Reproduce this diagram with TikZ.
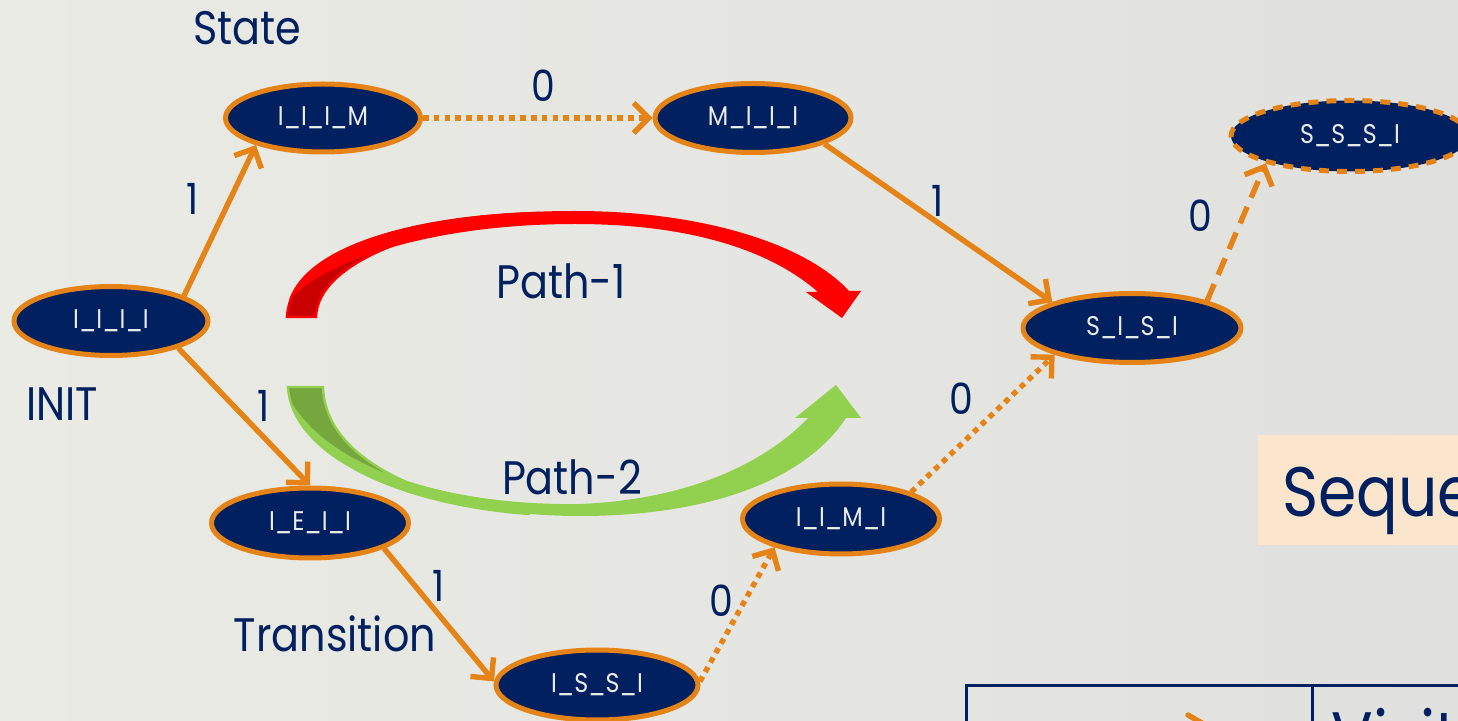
\documentclass[tikz,border=0pt]{standalone}
\usepackage{fontspec}
\setmainfont{Poppins}[FakeStretch=0.88]
\usetikzlibrary{shapes.geometric,arrows.meta}

\definecolor{navy}{RGB}{0,32,96}
\definecolor{edgeorange}{RGB}{230,131,22}
\definecolor{nodetext}{RGB}{236,236,236}
\definecolor{bgL}{RGB}{235,235,229}
\definecolor{bgR}{RGB}{224,224,222}
\definecolor{pathred}{RGB}{255,0,0}
\definecolor{pathreddark}{RGB}{200,0,0}
\definecolor{pathgreen}{RGB}{146,208,80}
\definecolor{pathgreendark}{RGB}{118,166,62}
\definecolor{peach}{RGB}{251,229,204}

\tikzset{
  statenode/.style={ellipse, fill=navy, draw=edgeorange, line width=2.5pt,
    inner sep=0pt, text=nodetext, font=\fontsize{13.5}{15}\selectfont},
  trans/.style={draw=edgeorange, line width=2.7pt,
    -{Straight Barb[length=7.5pt,width=15pt]}},
  dotline/.style={trans, dash pattern=on 2.8pt off 2.6pt},
  dashline/.style={trans, dash pattern=on 9pt off 5pt},
  lbl/.style={text=navy, font=\fontsize{21.5}{24}\selectfont, anchor=base, inner sep=0pt},
  caption/.style={text=navy, font=\fontsize{23.5}{28}\selectfont, anchor=base, inner sep=0pt},
}

\begin{document}
\begin{tikzpicture}[x=0.5pt,y=-0.5pt]
\useasboundingbox (0,0) rectangle (1458,721);
\clip (0,0) rectangle (1458,721);
\shade[left color=bgL, right color=bgR] (0,0) rectangle (1458,721);

% captions
\node[caption] (capstate) at (247,45) {State};
\node[caption] (capinit) at (62,421) {INIT};
\node[caption] (captrans) at (335,652) {Transition};

% curved block arrow, Path-1 (red, over the top)
\fill[pathreddark, draw=pathred, line width=1.2pt]
  (287,317) .. controls (290,250) and (410,216) .. (540,213)
  .. controls (420,226) and (318,262) .. (316,317) -- cycle;
\fill[pathred]
  (289,300) .. controls (310,238) and (440,211) .. (575,211)
  .. controls (700,211) and (805,243) .. (849,291)
  -- (861,291) -- (842,318) -- (806,292) -- (818,292)
  .. controls (770,250) and (690,224) .. (575,224)
  .. controls (440,224) and (330,257) .. (289,300) -- cycle;
\node[caption] (path1) at (561,299) {Path-1};

% curved block arrow, Path-2 (green, under the bottom)
\fill[pathgreendark, draw=pathgreen, line width=1.2pt]
  (288,387) .. controls (292,455) and (400,505) .. (530,514)
  .. controls (420,500) and (325,458) .. (323,387) -- cycle;
\fill[pathgreen]
  (290,400) .. controls (315,475) and (450,516) .. (580,516)
  .. controls (710,516) and (805,480) .. (846,418)
  -- (861,418) -- (836,385) -- (795,418) -- (808,418)
  .. controls (760,468) and (680,500) .. (580,504)
  .. controls (450,506) and (330,470) .. (290,400) -- cycle;
\node[caption] (path2) at (572,495) {Path-2};

% states
\node[statenode, minimum width=97pt, minimum height=34.5pt] (s1111) at (111,321) {I\_I\_I\_I};
\node[statenode, minimum width=97.5pt, minimum height=34pt] (s111m) at (323,118) {I\_I\_I\_M};
\node[statenode, minimum width=98pt, minimum height=34.5pt] (sm111) at (753,118) {M\_I\_I\_I};
\node[statenode, minimum width=119pt, minimum height=35.5pt, dash pattern=on 5pt off 4pt] (sssi) at (1350,136) {S\_S\_S\_I};
\node[statenode, minimum width=109pt, minimum height=34.5pt] (sisi) at (1132,328) {S\_I\_S\_I};
\node[statenode, minimum width=98.5pt, minimum height=35pt] (ieii) at (310,523) {I\_E\_I\_I};
\node[statenode, minimum width=101pt, minimum height=35pt] (issi) at (597,685) {I\_S\_S\_I};
\node[statenode, minimum width=98.5pt, minimum height=35pt] (iimi) at (841,519) {I\_I\_M\_I};

% transitions
\draw[trans] (s1111.19) -- (s111m.202);
\draw[dotline] (s111m.east) -- (sm111.west);
\draw[trans] (sm111.340) -- (sisi.162);
\draw[dashline] (sisi.20) -- (sssi.198);
\draw[trans] (s1111.338) -- (ieii.north);
\draw[trans] (ieii.341) -- (issi.178);
\draw[dotline] (issi.2) -- (iimi.203);
\draw[dotline] (iimi.21) -- (sisi.199);

% transition labels
\node[lbl] (l1) at (193,215) {1};
\node[lbl] (l2) at (543,102) {0};
\node[lbl] (l3) at (938,217) {1};
\node[lbl] (l4) at (1200,232) {0};
\node[lbl] (l5) at (264,422) {1};
\node[lbl] (l6) at (439,602) {1};
\node[lbl] (l7) at (721,617) {0};
\node[lbl] (l8) at (961,415) {0};

% sequence box
\fill[peach] (1258,435) rectangle (1470,545);
\node[text=navy, font=\fontsize{35}{40}\selectfont, anchor=base west, inner sep=0pt] (seq) at (1282,517) {Seque};

% table
\draw[navy, line width=1.5pt] (966,760) |- (1470,686);
\draw[navy, line width=1.5pt] (1312,686) -- (1312,760);
\coordinate (legA) at (1188,715);
\coordinate (legB) at (1240,745);
\draw[edgeorange, line width=2.7pt, line cap=round] (legA) -- (legB);
\node[text=navy, font=\fontsize{35}{40}\selectfont, anchor=base west, inner sep=0pt] (visit) at (1331,762) {Visit};
\end{tikzpicture}
\end{document}
